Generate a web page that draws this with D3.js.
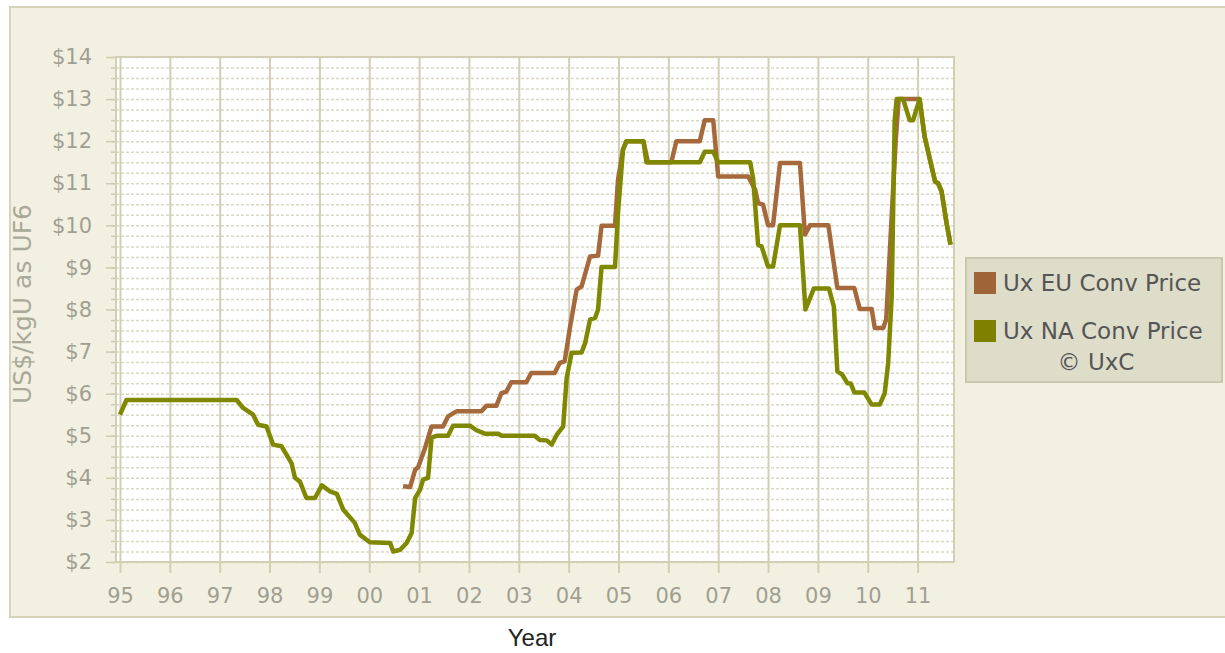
<html>
<head>
  <title>Ux Conversion Price</title>
  <script src="https://d3js.org/d3.v7.min.js"></script>
  <style>
    body { margin: 0; background: #ffffff; }
    text { font-family: "DejaVu Sans", Verdana, sans-serif; }
  </style>
</head>
<body>
  <div id="chart"></div>

  <script>

    // Axis ticks
    var years = [1995, 1996, 1997, 1998, 1999, 2000, 2001, 2002, 2003, 2004, 2005, 2006, 2007, 2008, 2009, 2010, 2011];
    var yearLabels = ["95", "96", "97", "98", "99", "00", "01", "02", "03", "04", "05", "06", "07", "08", "09", "10", "11"];
    var priceTicks = [2, 3, 4, 5, 6, 7, 8, 9, 10, 11, 12, 13, 14];
    var seriesNames = ["Ux EU Conv Price", "Ux NA Conv Price"];

    // Ux NA conversion price
    var naYears = [1995.00, 1995.13, 1997.34, 1997.47, 1997.67, 1997.77, 1997.94, 1998.07, 1998.24, 1998.44,
                   1998.51, 1998.61, 1998.74, 1998.91, 1999.05, 1999.21, 1999.35, 1999.48, 1999.71, 1999.81,
                   2000.01, 2000.42, 2000.48, 2000.62, 2000.75, 2000.85, 2000.92, 2001.02, 2001.08, 2001.18,
                   2001.25, 2001.35, 2001.58, 2001.68, 2002.02, 2002.15, 2002.32, 2002.59, 2002.65, 2003.32,
                   2003.42, 2003.56, 2003.66, 2003.76, 2003.89, 2003.96, 2004.06, 2004.26, 2004.33, 2004.43,
                   2004.53, 2004.59, 2004.66, 2004.93, 2004.99, 2005.09, 2005.16, 2005.50, 2005.56, 2006.63,
                   2006.73, 2006.90, 2007.00, 2007.64, 2007.70, 2007.80, 2007.87, 2008.00, 2008.10, 2008.24,
                   2008.64, 2008.75, 2008.92, 2009.22, 2009.32, 2009.39, 2009.49, 2009.59, 2009.66, 2009.73,
                   2009.93, 2010.08, 2010.24, 2010.34, 2010.41, 2010.48, 2010.54, 2010.58, 2010.71, 2010.84,
                   2010.91, 2011.04, 2011.14, 2011.28, 2011.35, 2011.41, 2011.48, 2011.58, 2011.66];
    var naPrices = [5.50, 5.85, 5.85, 5.66, 5.50, 5.26, 5.22, 4.79, 4.75, 4.35,
                    4.00, 3.91, 3.52, 3.52, 3.82, 3.68, 3.62, 3.24, 2.93, 2.65,
                    2.47, 2.45, 2.25, 2.29, 2.45, 2.69, 3.52, 3.72, 3.96, 4.00,
                    4.95, 5.00, 5.00, 5.24, 5.24, 5.13, 5.05, 5.05, 5.00, 5.00,
                    4.90, 4.89, 4.79, 5.02, 5.22, 6.37, 6.97, 6.98, 7.20, 7.76,
                    7.80, 8.00, 9.01, 9.01, 10.29, 11.80, 12.00, 12.00, 11.50, 11.50,
                    11.75, 11.75, 11.50, 11.50, 11.12, 9.54, 9.50, 9.02, 9.02, 10.00,
                    10.00, 8.00, 8.50, 8.50, 8.07, 6.53, 6.45, 6.25, 6.24, 6.03,
                    6.03, 5.74, 5.74, 6.01, 6.73, 8.31, 12.50, 13.00, 13.00, 12.50,
                    12.50, 13.00, 12.11, 11.40, 11.04, 11.00, 10.81, 10.06, 9.54];

    // Ux EU conversion price
    var euYears = [2000.68, 2000.82, 2000.92, 2000.98, 2001.12, 2001.25, 2001.48, 2001.58, 2001.75, 2002.25,
                   2002.35, 2002.55, 2002.65, 2002.75, 2002.85, 2003.15, 2003.25, 2003.72, 2003.82, 2003.92,
                   2004.03, 2004.16, 2004.26, 2004.43, 2004.59, 2004.66, 2004.93, 2004.99, 2005.09, 2005.16,
                   2005.50, 2005.59, 2006.06, 2006.16, 2006.63, 2006.73, 2006.90, 2007.00, 2007.60, 2007.74,
                   2007.80, 2007.90, 2008.00, 2008.10, 2008.24, 2008.64, 2008.74, 2008.84, 2009.21, 2009.39,
                   2009.73, 2009.84, 2010.08, 2010.14, 2010.31, 2010.37, 2010.56, 2010.62, 2011.04, 2011.14,
                   2011.28, 2011.35, 2011.41, 2011.48, 2011.58, 2011.66];
    var euPrices = [3.80, 3.78, 4.19, 4.25, 4.71, 5.22, 5.22, 5.46, 5.58, 5.58,
                    5.71, 5.71, 6.01, 6.05, 6.27, 6.27, 6.49, 6.49, 6.73, 6.77,
                    7.60, 8.47, 8.55, 9.26, 9.28, 9.99, 9.99, 11.08, 11.80, 12.00,
                    12.00, 11.50, 11.50, 12.00, 12.00, 12.50, 12.50, 11.16, 11.16, 10.85,
                    10.53, 10.49, 10.00, 10.00, 11.48, 11.48, 9.78, 10.00, 10.00, 8.51,
                    8.51, 8.01, 8.01, 7.56, 7.56, 7.76, 12.00, 13.00, 13.00, 12.11,
                    11.40, 11.04, 11.00, 10.81, 10.06, 9.54];

    var colors = ["#a5693b", "#7f8800"];

    // plot box
    var margin = {top: 57, left: 116},
        width = 838,
        height = 505;

    var svg = d3.select("#chart")
        .append("svg")
          .attr("width", 1225)
          .attr("height", 653);

    // beige panel
    svg.append("rect")
        .attr("x", 10)
        .attr("y", 7)
        .attr("width", 1230)
        .attr("height", 610)
        .style("fill", "#f2f1e1")
        .style("stroke", "#d5d3ba")
        .style("stroke-width", 2);

    var g = svg.append("g")
        .attr("transform", "translate(" + margin.left + "," + margin.top + ")");

    g.append("rect")
        .attr("width", width)
        .attr("height", height)
        .style("fill", "#ffffff");

    var x = d3.scaleLinear().domain([1994.92, 2011.73]).range([0, width]);
    var y = d3.scaleLinear().domain([2, 14]).range([height, 0]);

    // dashed quarter-dollar grid
    var quarters = d3.range(0, 49).map(function(i) { return 2 + i / 4; });

    g.append("g")
        .attr("class", "grid grid--y")
        .call(d3.axisLeft(y).tickValues(quarters).tickSize(-width).tickFormat(""))
        .call(function(s) { s.select(".domain").remove(); })
        .selectAll("line")
          .style("stroke", "#dad7c3")
          .style("stroke-width", 1.5)
          .style("stroke-dasharray", "3,2");

    // minor ticks
    g.append("g")
        .call(d3.axisLeft(y).tickValues(quarters).tickSize(5).tickFormat(""))
        .call(function(s) { s.select(".domain").remove(); })
        .selectAll("line")
          .style("stroke", "#cfccb2")
          .style("stroke-width", 1.5);

    // year gridlines + ticks below the plot
    var xAxis = g.append("g")
        .attr("class", "axis axis--x")
        .call(d3.axisBottom(x)
            .tickValues(years)
            .tickSize(height + 11)
            .tickPadding(15)
            .tickFormat(function(d, i) { return yearLabels[i]; }))
        .call(function(s) { s.select(".domain").remove(); });

    xAxis.selectAll("line")
        .style("stroke", "#d2cfb5")
        .style("stroke-width", 2);

    xAxis.selectAll("text")
        .style("font-size", "21px")
        .style("fill", "#a09f92");

    // y axis with dollar labels
    var yAxis = g.append("g")
        .attr("class", "axis axis--y")
        .call(d3.axisLeft(y)
            .tickValues(priceTicks)
            .tickSize(10)
            .tickPadding(14)
            .tickFormat(function(d) { return "$" + d; }))
        .call(function(s) { s.select(".domain").remove(); });

    yAxis.selectAll("line")
        .style("stroke", "#cfccb2")
        .style("stroke-width", 1.5);

    yAxis.selectAll("text")
        .style("font-size", "21px")
        .style("fill", "#a09f92");

    // plot border
    g.append("rect")
        .attr("width", width)
        .attr("height", height)
        .style("fill", "none")
        .style("stroke", "#d2cfb5")
        .style("stroke-width", 2);

    // lines
    var line = d3.line()
        .x(function(d) { return x(d[0]); })
        .y(function(d) { return y(d[1]); });

    var series = [
      d3.zip(euYears, euPrices),
      d3.zip(naYears, naPrices)
    ];

    g.selectAll(".line")
        .data(series)
        .enter()
        .append("path")
          .attr("class", "line")
          .attr("d", line)
          .style("fill", "none")
          .style("stroke", function(d, i) { return colors[i]; })
          .style("stroke-width", 4.5)
          .style("stroke-linejoin", "round");

    // axis titles
    svg.append("text")
        .text("US$/kgU as UF6")
        .attr("transform", "translate(31,304) rotate(-90)")
        .attr("text-anchor", "middle")
        .style("font-size", "25px")
        .style("fill", "#a9a998");

    svg.append("text")
        .text("Year")
        .attr("x", 532)
        .attr("y", 646)
        .attr("text-anchor", "middle")
        .style("font-family", "'Liberation Sans', Arial, sans-serif")
        .style("font-size", "24px")
        .style("fill", "#222222");

    // legend
    var legend = svg.append("g").attr("transform", "translate(966,258)");

    legend.append("rect")
        .attr("width", 256)
        .attr("height", 124)
        .style("fill", "#deddca")
        .style("stroke", "#c9c7ae")
        .style("stroke-width", 2);

    var items = legend.selectAll(".item")
        .data(seriesNames)
        .enter()
        .append("g")
          .attr("class", "item")
          .attr("transform", function(d, i) { return "translate(8," + (14 + i * 48) + ")"; });

    items.append("rect")
        .attr("width", 22)
        .attr("height", 22)
        .style("fill", function(d, i) { return i == 0 ? "#9f6538" : "#808000"; });

    items.append("text")
        .text(function(d) { return d; })
        .attr("x", 29)
        .attr("y", 19)
        .style("font-size", "23px")
        .style("fill", "#555555");

    legend.append("text")
        .text("\u00a9 UxC")
        .attr("x", 130)
        .attr("y", 112)
        .attr("text-anchor", "middle")
        .style("font-size", "23px")
        .style("fill", "#555555");

  </script>
</body>
</html>
